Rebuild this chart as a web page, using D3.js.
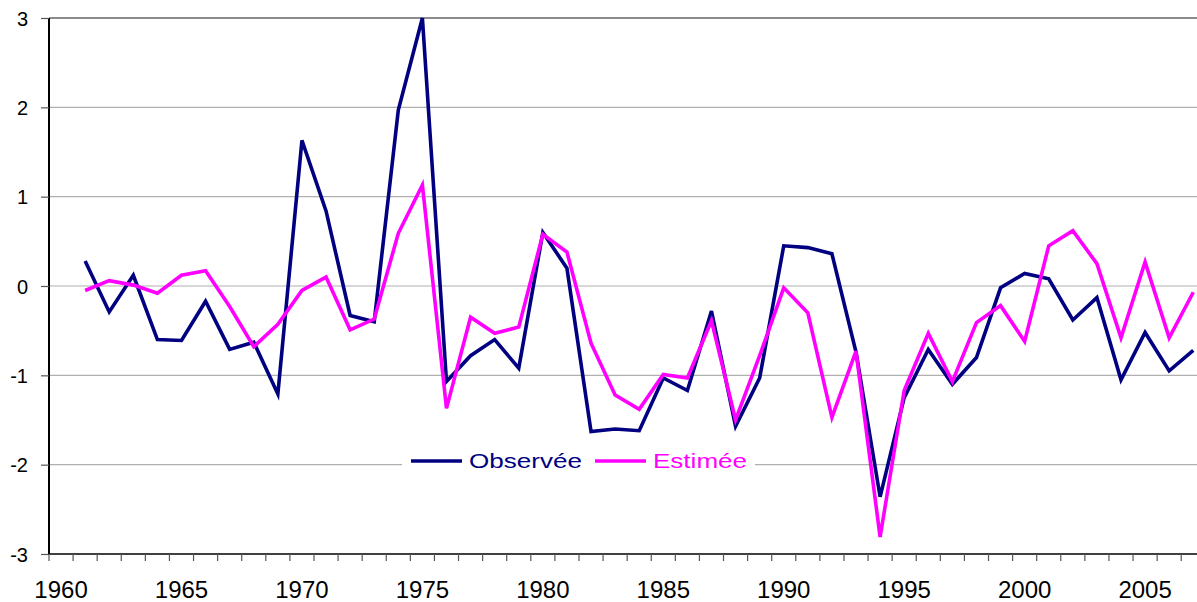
<!DOCTYPE html>
<html>
<head>
<meta charset="utf-8">
<script src="https://cdn.jsdelivr.net/npm/d3@7"></script>
<style>
  html, body { margin: 0; padding: 0; background: #fff; }
  svg { display: block; }
</style>
</head>
<body>
<svg id="chart" width="1197" height="602"></svg>
<script>
const categories = d3.range(1960, 2008);
const dataYears = d3.range(1961, 2008);
const observee = [0.28,-0.29,0.12,-0.60,-0.61,-0.17,-0.71,-0.63,-1.21,1.63,
                  0.84,-0.33,-0.40,1.97,3.00,-1.07,-0.78,-0.60,-0.92,0.60,
                  0.20,-1.63,-1.60,-1.62,-1.03,-1.17,-0.28,-1.57,-1.03,0.45,
                  0.43,0.36,-0.74,-2.36,-1.25,-0.71,-1.10,-0.80,-0.02,0.14,
                  0.08,-0.38,-0.13,-1.05,-0.52,-0.95,-0.72];
const estimee = [-0.05,0.06,0.01,-0.08,0.12,0.17,-0.23,-0.68,-0.43,-0.05,
                 0.10,-0.49,-0.37,0.59,1.13,-1.37,-0.35,-0.53,-0.46,0.58,
                 0.38,-0.64,-1.22,-1.38,-0.99,-1.03,-0.39,-1.50,-0.78,-0.02,
                 -0.30,-1.47,-0.73,-2.81,-1.17,-0.53,-1.07,-0.41,-0.22,-0.62,
                 0.45,0.62,0.25,-0.58,0.27,-0.58,-0.07];
const yTicks = [-3,-2,-1,0,1,2,3];
const xLabels = [1960,1965,1970,1975,1980,1985,1990,1995,2000,2005];
const seriesNames = ["Observée", "Estimée"];
const seriesColors = ["#000080", "#ff00ff"];

const svg = d3.select("#chart");
const plotLeft = 49, plotTop = 18, plotBottom = 554, step = 24.09;

const x = d3.scaleBand().domain(categories).range([plotLeft, plotLeft + categories.length * step]).padding(0);
const y = d3.scaleLinear().domain([-3, 3]).range([plotBottom, plotTop]);
const cx = d => x(d) + x.bandwidth() / 2;

// gridlines
svg.append("g").selectAll("line").data(yTicks.filter(v => v > -3)).join("line")
  .attr("x1", plotLeft).attr("x2", 1197)
  .attr("y1", d => y(d)).attr("y2", d => y(d))
  .attr("stroke", d => d === 3 ? "#666" : "#b0b0b0")
  .attr("stroke-width", d => d === 3 ? 1.6 : 1.2);

// y axis
const yAxis = svg.append("g").attr("transform", `translate(${plotLeft},0)`)
  .call(d3.axisLeft(y).tickValues(yTicks).tickSize(8).tickFormat(d3.format("d")));
yAxis.select(".domain").attr("stroke", "#000").attr("stroke-width", 2).attr("d", `M0,${plotTop}V${plotBottom}`);
yAxis.selectAll(".tick line").attr("stroke", "#555").attr("stroke-width", 1.2);
yAxis.selectAll(".tick text").attr("x", -21).attr("dy", "0.36em")
  .style("font-family", "'Liberation Sans', Arial, sans-serif").style("font-size", "20px").attr("fill", "#000")
  .text(d => d < 0 ? "-" + Math.abs(d) : d);

// x axis
const xg = svg.append("g");
xg.append("line").attr("x1", plotLeft).attr("x2", 1197).attr("y1", plotBottom).attr("y2", plotBottom)
  .attr("stroke", "#000").attr("stroke-width", 1.6);
xg.selectAll("line.tk").data(categories).join("line").attr("class", "tk")
  .attr("x1", d => x(d)).attr("x2", d => x(d))
  .attr("y1", plotBottom).attr("y2", plotBottom + 7)
  .attr("stroke", "#555").attr("stroke-width", 1.2);
xg.selectAll("text").data(xLabels).join("text")
  .attr("x", d => cx(d)).attr("y", 598)
  .attr("text-anchor", "middle")
  .style("font-family", "'Liberation Sans', Arial, sans-serif")
  .style("font-size", "24px").attr("fill", "#000")
  .text(d => d);

// lines
const line = d3.line().x(d => cx(d[0])).y(d => y(d[1]));
[observee, estimee].forEach((vals, i) => {
  svg.append("path")
    .datum(dataYears.map((yr, j) => [yr, vals[j]]))
    .attr("d", line)
    .attr("fill", "none")
    .attr("stroke", seriesColors[i])
    .attr("stroke-width", 3.6)
    .attr("stroke-linejoin", "miter");
});

// legend
const lg = svg.append("g");
lg.append("rect").attr("x", 402).attr("y", 448).attr("width", 353).attr("height", 28).attr("fill", "#fff");
const legendItems = [
  {name: seriesNames[0], color: seriesColors[0], lx: 411, tx: 469, tw: 113},
  {name: seriesNames[1], color: seriesColors[1], lx: 595, tx: 653, tw: 94}
];
legendItems.forEach(it => {
  lg.append("line").attr("x1", it.lx).attr("x2", it.lx + 51).attr("y1", 461).attr("y2", 461)
    .attr("stroke", it.color).attr("stroke-width", 3.6);
  lg.append("text").attr("x", it.tx).attr("y", 468)
    .attr("textLength", it.tw).attr("lengthAdjust", "spacingAndGlyphs")
    .style("font-family", "'Liberation Sans', Arial, sans-serif").style("font-size", "20px")
    .attr("fill", it.color).text(it.name);
});
</script>
</body>
</html>
